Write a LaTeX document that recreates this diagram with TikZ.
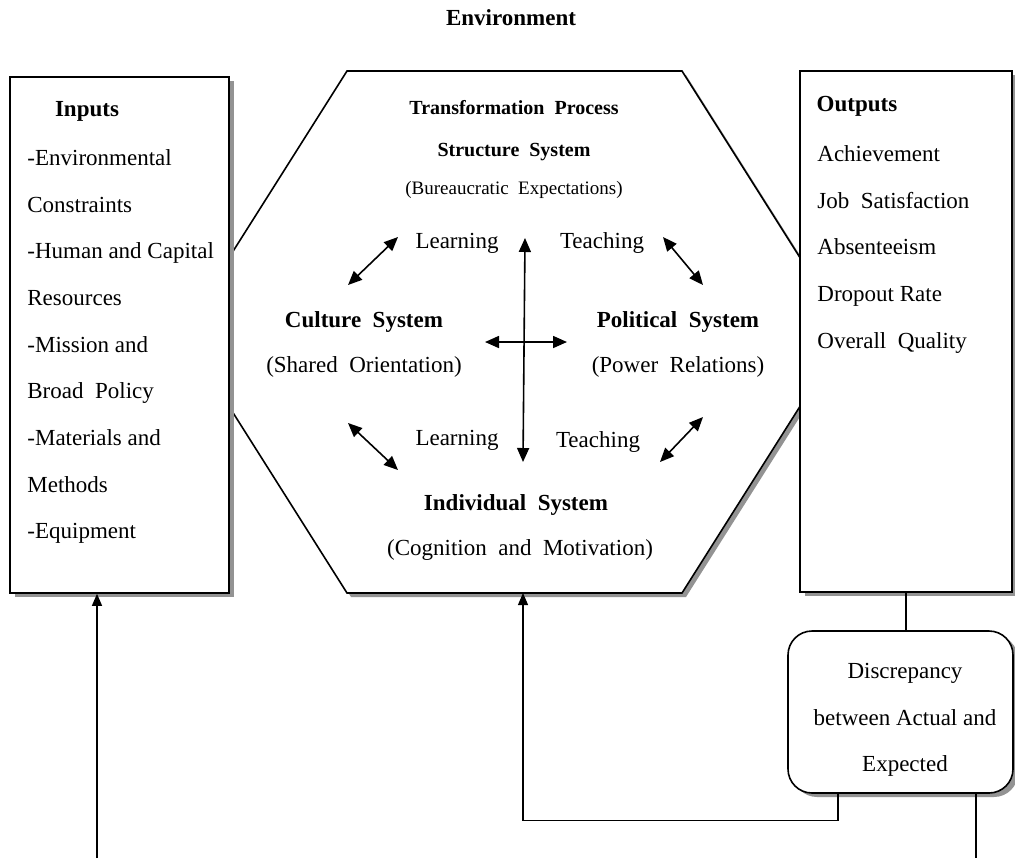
\documentclass[tikz,border=0pt]{standalone}
\usepackage{fontspec}
\setmainfont{Liberation Serif}
\usetikzlibrary{arrows.meta,shadows}

\begin{document}
\begin{tikzpicture}[x=0.5pt,y=-0.5pt,
  every node/.style={inner sep=0pt, font=\fontsize{11.5}{23.35}\selectfont},
  box/.style={draw, line width=0.8pt, fill=white,
    drop shadow={shadow xshift=2.5pt, shadow yshift=-2pt, fill=gray!85, opacity=1}},
  head/.style={font=\fontsize{11.5}{14}\selectfont\bfseries},
  small/.style={font=\fontsize{10}{12}\selectfont\bfseries},
  dbl/.style={{Triangle[length=7pt,width=6pt]}-{Triangle[length=7pt,width=6pt]}, line width=0.8pt},
  arr/.style={-{Triangle[length=6pt,width=5pt]}, line width=0.6pt}]
\useasboundingbox (0,0) rectangle (1015,858);

% transformation hexagon with its shadow
\fill[gray!85] (351,75) -- (686,75) -- (851,336) -- (686,597) -- (351,597) -- (186,336) -- cycle;
\draw[line width=0.8pt, fill=white] (347,71) -- (682,71) -- (847,332) -- (682,593) -- (347,593) -- (182,332) -- cycle;
\coordinate (hexbot) at (523,593);

% boxes
\node[box, minimum width=109.5pt, minimum height=258pt] (inbox) at (119.5,335) {};
\node[box, minimum width=106pt, minimum height=260.5pt] (outbox) at (906,331.5) {};
\node[box, rounded corners=12pt, minimum width=112.5pt, minimum height=81pt] (disc) at (900.5,712) {};

\node[head] (env) at (511,18) {Environment};

% inputs
\node[head] (intitle) at (87,111) {Inputs};
\node[anchor=north west, align=left] (inlist) at (27,149)
  {-Environmental\\Constraints\\-Human and Capital\\Resources\\-Mission and\\Broad~ Policy\\-Materials and\\Methods\\-Equipment};

% outputs
\node[head] (outtitle) at (857,106) {Outputs};
\node[anchor=north west, align=left] (outlist) at (817,145)
  {Achievement\\Job~ Satisfaction\\Absenteeism\\Dropout Rate\\Overall~ Quality};

% inside the hexagon
\node[small] (trans) at (514,108) {Transformation~ Process};
\node[small] (struct) at (514,152) {Structure~ System};
\node[font=\fontsize{9.5}{12}\selectfont] (bur) at (514,190) {(Bureaucratic~ Expectations)};
\node (learn1) at (457,243) {Learning};
\node (teach1) at (602,243) {Teaching};
\node[head] (cult) at (364,322) {Culture~ System};
\node (shared) at (364,367) {(Shared~ Orientation)};
\node[head] (pol) at (678,322) {Political~ System};
\node (power) at (678,367) {(Power~ Relations)};
\node (learn2) at (457,440) {Learning};
\node (teach2) at (598,442) {Teaching};
\node[head] (indiv) at (516,505) {Individual~ System};
\node (cogn) at (520,550) {(Cognition~ and~ Motivation)};

\node[align=center] (disctext) at (905,720) {Discrepancy\\between Actual and\\Expected};

% arrows between the systems
\coordinate (ulA) at (348,285); \coordinate (ulB) at (398,237);
\coordinate (urA) at (663,237); \coordinate (urB) at (703,285);
\coordinate (llA) at (348,423); \coordinate (llB) at (398,470);
\coordinate (lrA) at (703,417); \coordinate (lrB) at (660,462);
\coordinate (vtA) at (525,238); \coordinate (vtB) at (523,462);
\coordinate (hzA) at (485,342); \coordinate (hzB) at (567,342);
\draw[dbl] (ulA) -- (ulB);
\draw[dbl] (urA) -- (urB);
\draw[dbl] (llA) -- (llB);
\draw[dbl] (lrA) -- (lrB);
\draw[dbl] (vtA) -- (vtB);
\draw[dbl] (hzA) -- (hzB);

% feedback lines
\coordinate (inx) at (97,858);
\coordinate (fbx) at (838,0);
\coordinate (outx) at (976,858);
\draw[arr] (inx) -- (inbox.south -| inx);
\draw[line width=0.6pt] (outbox.south) -- (outbox.south |- disc.north);
\draw[arr] (disc.south -| fbx) -- ++(0,27) -| (hexbot);
\draw[line width=0.6pt] (disc.south -| outx) -- (outx);
\end{tikzpicture}
\end{document}
